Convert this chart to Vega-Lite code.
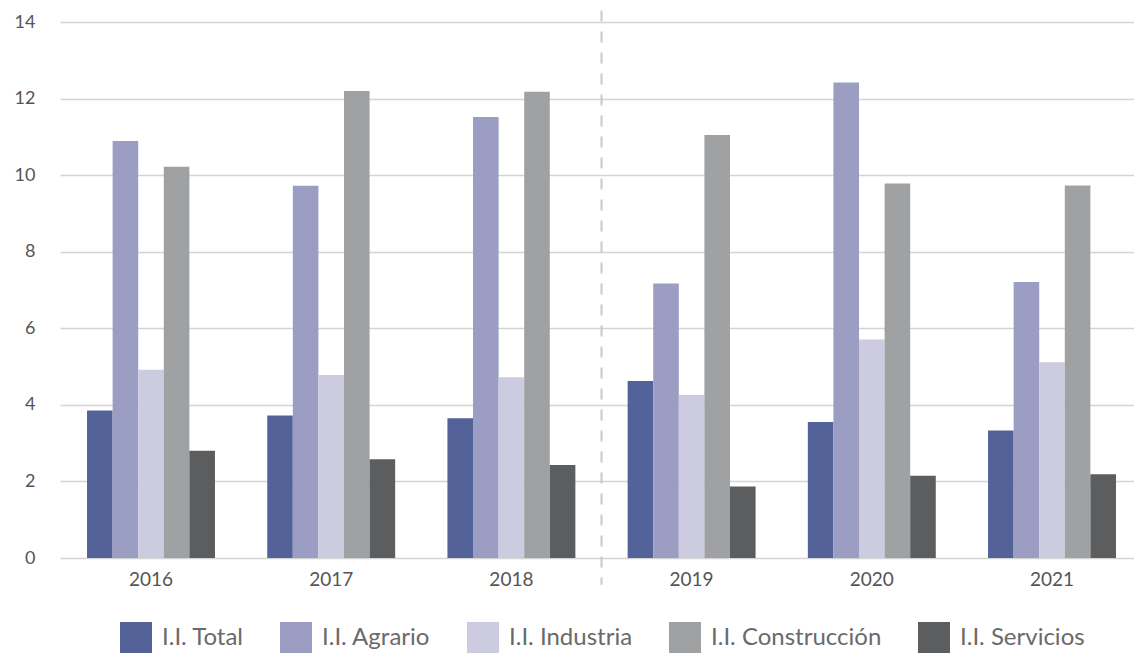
{
  "$schema": "https://vega.github.io/schema/vega-lite/v6.json",
  "autosize": {"type": "none"},
  "width": 1074,
  "height": 536,
  "padding": {"left": 60, "top": 22, "right": 0, "bottom": 95},
  "background": "white",
  "config": {
    "view": {"stroke": null},
    "font": "Lato",
    "axis": {"labelFont": "Lato", "labelColor": "#555555"},
    "legend": {"labelFont": "Lato"}
  },
  "data": {
    "values": [
      {"year": "2016", "serie": "I.I. Total", "valor": 3.85},
      {"year": "2016", "serie": "I.I. Agrario", "valor": 10.89},
      {"year": "2016", "serie": "I.I. Industria", "valor": 4.92},
      {"year": "2016", "serie": "I.I. Construcción", "valor": 10.22},
      {"year": "2016", "serie": "I.I. Servicios", "valor": 2.8},
      {"year": "2017", "serie": "I.I. Total", "valor": 3.72},
      {"year": "2017", "serie": "I.I. Agrario", "valor": 9.72},
      {"year": "2017", "serie": "I.I. Industria", "valor": 4.78},
      {"year": "2017", "serie": "I.I. Construcción", "valor": 12.2},
      {"year": "2017", "serie": "I.I. Servicios", "valor": 2.58},
      {"year": "2018", "serie": "I.I. Total", "valor": 3.65},
      {"year": "2018", "serie": "I.I. Agrario", "valor": 11.52},
      {"year": "2018", "serie": "I.I. Industria", "valor": 4.72},
      {"year": "2018", "serie": "I.I. Construcción", "valor": 12.18},
      {"year": "2018", "serie": "I.I. Servicios", "valor": 2.43},
      {"year": "2019", "serie": "I.I. Total", "valor": 4.62},
      {"year": "2019", "serie": "I.I. Agrario", "valor": 7.17},
      {"year": "2019", "serie": "I.I. Industria", "valor": 4.26},
      {"year": "2019", "serie": "I.I. Construcción", "valor": 11.05},
      {"year": "2019", "serie": "I.I. Servicios", "valor": 1.87},
      {"year": "2020", "serie": "I.I. Total", "valor": 3.55},
      {"year": "2020", "serie": "I.I. Agrario", "valor": 12.42},
      {"year": "2020", "serie": "I.I. Industria", "valor": 5.71},
      {"year": "2020", "serie": "I.I. Construcción", "valor": 9.78},
      {"year": "2020", "serie": "I.I. Servicios", "valor": 2.15},
      {"year": "2021", "serie": "I.I. Total", "valor": 3.33},
      {"year": "2021", "serie": "I.I. Agrario", "valor": 7.21},
      {"year": "2021", "serie": "I.I. Industria", "valor": 5.11},
      {"year": "2021", "serie": "I.I. Construcción", "valor": 9.73},
      {"year": "2021", "serie": "I.I. Servicios", "valor": 2.19}
    ]
  },
  "layer": [
    {
      "mark": {"type": "bar"},
      "encoding": {
        "x": {
          "field": "year", "type": "nominal",
          "scale": {"paddingInner": 0.29, "paddingOuter": 0.125, "align": 0.6},
          "axis": {"title": null, "labelAngle": 0, "domain": false, "ticks": false, "labelFontSize": 19, "labelPadding": 12, "labelColor": "#555555"}
        },
        "xOffset": {
          "field": "serie", "type": "nominal",
          "scale": {"domain": ["I.I. Total", "I.I. Agrario", "I.I. Industria", "I.I. Construcción", "I.I. Servicios"], "paddingInner": 0, "paddingOuter": 0}
        },
        "y": {
          "field": "valor", "type": "quantitative",
          "scale": {"domain": [0, 14], "nice": false},
          "axis": {"title": null, "values": [0, 2, 4, 6, 8, 10, 12, 14], "domain": false, "ticks": false, "labelPadding": 25, "labelFontSize": 18, "labelColor": "#555555", "gridColor": "#d4d4d4", "gridWidth": 1.5}
        },
        "color": {
          "field": "serie", "type": "nominal",
          "scale": {
            "domain": ["I.I. Total", "I.I. Agrario", "I.I. Industria", "I.I. Construcción", "I.I. Servicios"],
            "range": ["#536399", "#9b9ec2", "#cccbdf", "#a0a1a3", "#5c5d5f"]
          },
          "legend": {
            "title": null, "orient": "none", "direction": "horizontal", "columns": 5,
            "legendX": 60, "legendY": 600,
            "symbolType": "square", "symbolSize": 1024, "symbolStrokeWidth": 0, "symbolOpacity": 1,
            "labelFontSize": 24, "labelColor": "#6a6a6a", "labelOffset": 10, "labelLimit": 400, "columnPadding": 36
          }
        }
      }
    },
    {
      "data": {"values": [{"year": "2019"}]},
      "mark": {"type": "rule", "color": "#c8c8c8", "strokeWidth": 2, "strokeDash": [11, 10], "clip": false},
      "encoding": {
        "x": {"field": "year", "type": "nominal", "bandPosition": -0.204},
        "y": {"datum": 14.3},
        "y2": {"datum": -0.7}
      }
    }
  ]
}
